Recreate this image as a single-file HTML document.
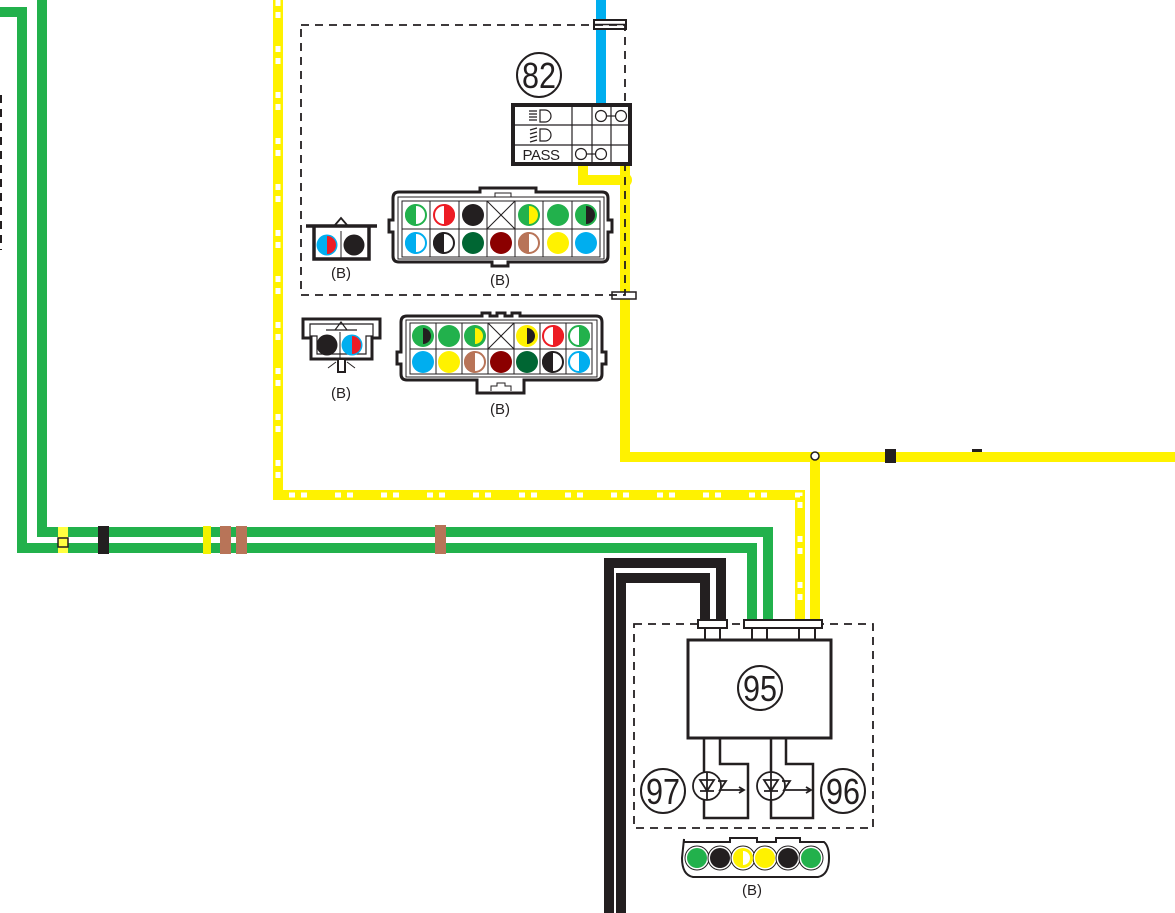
<!DOCTYPE html>
<html><head><meta charset="utf-8"><style>
html,body{margin:0;padding:0;background:#fff;}
svg{display:block;}
text{font-family:"Liberation Sans",sans-serif;fill:#231f20;}
</style></head><body>
<svg width="1175" height="913" viewBox="0 0 1175 913" xmlns="http://www.w3.org/2000/svg">
<!-- top left dashed line -->
<line x1="1" y1="95" x2="1" y2="250" stroke="#231f20" stroke-width="2" stroke-dasharray="8 6"/>

<!-- green wires -->
<polyline points="0,12 22,12 22,548 752,548 752,622" fill="none" stroke="#22b14c" stroke-width="10"/>
<polyline points="42,0 42,532 768,532 768,622" fill="none" stroke="#22b14c" stroke-width="10"/>
<!-- markers on green -->
<rect x="58" y="527" width="10" height="26" fill="#ffff40"/>
<rect x="58" y="538" width="10" height="9" fill="none" stroke="#231f20" stroke-width="1.5"/>
<rect x="98" y="526" width="11" height="28" fill="#231f20"/>
<rect x="203" y="526" width="8" height="28" fill="#f3f200"/>
<rect x="220" y="526" width="11" height="28" fill="#b87458"/>
<rect x="236" y="526" width="11" height="28" fill="#b87458"/>
<rect x="435" y="525" width="11" height="29" fill="#b87458"/>

<!-- yellow dashed wire -->
<polyline points="278,0 278,495 800,495 800,622" fill="none" stroke="#fff200" stroke-width="10"/>
<polyline points="278,0 278,495 800,495 800,622" fill="none" stroke="#fff" stroke-width="5" stroke-dasharray="6 6 6 28"/>

<!-- blue wire -->
<line x1="601" y1="0" x2="601" y2="105" stroke="#00aeef" stroke-width="10"/>
<rect x="594" y="20" width="32" height="9" fill="#fff" stroke="#231f20" stroke-width="2"/>
<line x1="594" y1="24.5" x2="626" y2="24.5" stroke="#231f20" stroke-width="1.5"/>

<!-- yellow solid wires -->
<polyline points="583,165 583,180 625,180" fill="none" stroke="#fff200" stroke-width="10"/>
<polyline points="625,165 625,457 1175,457" fill="none" stroke="#fff200" stroke-width="10"/>
<circle cx="625" cy="180" r="7" fill="#fff200"/>
<line x1="815" y1="457" x2="815" y2="622" stroke="#fff200" stroke-width="10"/>
<circle cx="815" cy="456" r="4" fill="#fff" stroke="#231f20" stroke-width="1.5"/>
<rect x="885" y="449" width="11" height="14" fill="#231f20"/>
<rect x="972" y="449" width="10" height="3" fill="#231f20"/>
<rect x="612" y="292" width="24" height="7" fill="#fff" stroke="#231f20" stroke-width="1.5"/>

<!-- dashed box top -->
<rect x="301" y="25" width="324" height="270" fill="none" stroke="#231f20" stroke-width="1.8" stroke-dasharray="8 6"/>

<!-- black wires -->
<polyline points="609,913 609,563 721,563 721,622" fill="none" stroke="#231f20" stroke-width="10"/>
<polyline points="621,913 621,578 705,578 705,622" fill="none" stroke="#231f20" stroke-width="10"/>

<!-- switch 82 -->
<circle cx="539" cy="75" r="22" fill="#fff" stroke="#231f20" stroke-width="2"/>
<text x="539" y="88" font-size="36" text-anchor="middle" textLength="34" lengthAdjust="spacingAndGlyphs">82</text>
<rect x="513" y="105" width="117" height="59" fill="#fff" stroke="#231f20" stroke-width="4"/>
<g stroke="#231f20" stroke-width="1.2" fill="none">
<line x1="572" y1="105" x2="572" y2="164"/><line x1="592" y1="105" x2="592" y2="164"/><line x1="611" y1="105" x2="611" y2="164"/>
<line x1="513" y1="125" x2="630" y2="125"/><line x1="513" y1="145" x2="630" y2="145"/>
<circle cx="601" cy="116" r="5.5"/><circle cx="621" cy="116" r="5.5"/><line x1="606" y1="116" x2="616" y2="116"/>
<circle cx="581" cy="154" r="5.5"/><circle cx="601" cy="154" r="5.5"/><line x1="586" y1="154" x2="596" y2="154"/>
<path d="M540,110 h5 a6,6 0 0 1 0,12 h-5 z"/>
<path d="M529,111h8M529,114h8M529,117h8M529,120h8"/>
<path d="M540,129 h5 a6,6 0 0 1 0,12 h-5 z"/>
<path d="M530,130l7,-2M530,134l7,-2M530,138l7,-2M530,142l7,-2"/>
</g>
<text x="541" y="160" font-size="15" text-anchor="middle" letter-spacing="-0.5">PASS</text>

<!-- small connector top -->
<path d="M335,225 L341,218 L347,225" fill="none" stroke="#231f20" stroke-width="1.8"/>
<path d="M306,226 H377 M314,226 V259 H369 V226" fill="none" stroke="#231f20" stroke-width="3.5"/>
<line x1="341" y1="231" x2="341" y2="259" stroke="#231f20" stroke-width="1"/>
<circle cx="327" cy="245" r="10.5" fill="#00aeef"/><path d="M327,236 A9,9 0 0 1 327,254 Z" fill="#ed1c24"/>
<circle cx="354" cy="245" r="10.5" fill="#231f20"/>
<text x="341" y="278" font-size="15" text-anchor="middle">(B)</text>

<!-- big connector top -->
<path d="M393,198 Q393,192 399,192 H480 V188 H536 V192 H602 Q608,192 608,198 V220 H612 V232 H608 V256 Q608,262 602,262 H508 V266 H492 V262 H399 Q393,262 393,256 V232 H389 V220 H393 Z" fill="#fff" stroke="#231f20" stroke-width="3"/>
<rect x="398" y="197" width="206" height="62" fill="none" stroke="#231f20" stroke-width="1"/>
<rect x="495" y="193" width="16" height="4" fill="none" stroke="#231f20" stroke-width="1"/>
<g stroke="#231f20" stroke-width="1" fill="none">
<rect x="402" y="201" width="198" height="56"/>
<line x1="402" y1="229" x2="600" y2="229"/>
<line x1="430" y1="201" x2="430" y2="257"/><line x1="459" y1="201" x2="459" y2="257"/><line x1="487" y1="201" x2="487" y2="257"/><line x1="515" y1="201" x2="515" y2="257"/><line x1="543" y1="201" x2="543" y2="257"/><line x1="572" y1="201" x2="572" y2="257"/>
<line x1="487" y1="201" x2="515" y2="229"/><line x1="515" y1="201" x2="487" y2="229"/>
</g>
<circle cx="416" cy="215" r="10" fill="#fff" stroke="#22b14c" stroke-width="2"/><path d="M416,204 A11,11 0 0 0 416,226 Z" fill="#22b14c"/>
<circle cx="444" cy="215" r="10" fill="#fff" stroke="#ed1c24" stroke-width="2"/><path d="M444,204 A11,11 0 0 1 444,226 Z" fill="#ed1c24"/>
<circle cx="473" cy="215" r="11" fill="#231f20"/>
<circle cx="529" cy="215" r="11" fill="#22b14c"/><path d="M529,206 A9,9 0 0 1 529,224 Z" fill="#fff200"/>
<circle cx="558" cy="215" r="11" fill="#22b14c"/>
<circle cx="586" cy="215" r="11" fill="#22b14c"/><path d="M586,206 A9,9 0 0 1 586,224 Z" fill="#231f20"/>
<circle cx="416" cy="243" r="10" fill="#fff" stroke="#00aeef" stroke-width="2"/><path d="M416,232 A11,11 0 0 0 416,254 Z" fill="#00aeef"/>
<circle cx="444" cy="243" r="10" fill="#fff" stroke="#231f20" stroke-width="2"/><path d="M444,232 A11,11 0 0 0 444,254 Z" fill="#231f20"/>
<circle cx="473" cy="243" r="11" fill="#006633"/>
<circle cx="501" cy="243" r="11" fill="#8b0000"/>
<circle cx="529" cy="243" r="10" fill="#fff" stroke="#b87458" stroke-width="2"/><path d="M529,232 A11,11 0 0 0 529,254 Z" fill="#b87458"/>
<circle cx="558" cy="243" r="11" fill="#fff200"/>
<circle cx="586" cy="243" r="11" fill="#00aeef"/>
<text x="500" y="285" font-size="15" text-anchor="middle">(B)</text>

<!-- small connector bottom -->
<path d="M303,319 H380 V338 H372 V359 H311 V338 H303 Z" fill="#fff" stroke="#231f20" stroke-width="3"/>
<path d="M310,324 H373 V336 H366 V354 H317 V336 H310 Z" fill="none" stroke="#231f20" stroke-width="1.2"/>
<path d="M326,330 H357 M335,330 L341,322 L347,330" fill="none" stroke="#231f20" stroke-width="1.2"/>
<line x1="340" y1="332" x2="340" y2="359" stroke="#231f20" stroke-width="1"/>
<circle cx="327" cy="345" r="10.5" fill="#231f20"/>
<circle cx="352" cy="345" r="10.5" fill="#00aeef"/><path d="M352,336 A9,9 0 0 1 352,354 Z" fill="#ed1c24"/>
<rect x="338" y="359" width="7" height="13" fill="#fff" stroke="#231f20" stroke-width="2"/>
<path d="M328,368 L336,362 M355,368 L347,362" stroke="#231f20" stroke-width="1"/>
<text x="341" y="398" font-size="15" text-anchor="middle">(B)</text>

<!-- big connector bottom -->
<path d="M482,316 V313 H490 V316 H497 V313 H505 V316 H512 V313 H520 V316 H596 Q602,316 602,322 V352 H606 V364 H602 V374 Q602,380 596,380 H524 V393 H477 V380 H407 Q401,380 401,374 V364 H397 V352 H401 V322 Q401,316 407,316 Z" fill="#fff" stroke="#231f20" stroke-width="3"/>
<rect x="406" y="320" width="191" height="57" fill="none" stroke="#231f20" stroke-width="1"/>
<path d="M491,391 V386 H497 V383 H505 V386 H511 V391" fill="none" stroke="#231f20" stroke-width="1"/>
<g stroke="#231f20" stroke-width="1" fill="none">
<rect x="410" y="323" width="182" height="51"/>
<line x1="410" y1="349" x2="592" y2="349"/>
<line x1="436" y1="323" x2="436" y2="374"/><line x1="462" y1="323" x2="462" y2="374"/><line x1="488" y1="323" x2="488" y2="374"/><line x1="514" y1="323" x2="514" y2="374"/><line x1="540" y1="323" x2="540" y2="374"/><line x1="566" y1="323" x2="566" y2="374"/>
<line x1="488" y1="323" x2="514" y2="349"/><line x1="514" y1="323" x2="488" y2="349"/>
</g>
<circle cx="423" cy="336" r="11" fill="#22b14c"/><path d="M423,328 A8,8 0 0 1 423,344 Z" fill="#231f20"/>
<circle cx="449" cy="336" r="11" fill="#22b14c"/>
<circle cx="475" cy="336" r="11" fill="#22b14c"/><path d="M475,328 A8,8 0 0 1 475,344 Z" fill="#fff200"/>
<circle cx="527" cy="336" r="11" fill="#fff200"/><path d="M527,328 A8,8 0 0 1 527,344 Z" fill="#231f20"/>
<circle cx="553" cy="336" r="10" fill="#fff" stroke="#ed1c24" stroke-width="2"/><path d="M553,325 A11,11 0 0 1 553,347 Z" fill="#ed1c24"/>
<circle cx="579" cy="336" r="10" fill="#fff" stroke="#22b14c" stroke-width="2"/><path d="M579,325 A11,11 0 0 1 579,347 Z" fill="#22b14c"/>
<circle cx="423" cy="362" r="11" fill="#00aeef"/>
<circle cx="449" cy="362" r="11" fill="#fff200"/>
<circle cx="475" cy="362" r="10" fill="#fff" stroke="#b87458" stroke-width="2"/><path d="M475,351 A11,11 0 0 0 475,373 Z" fill="#b87458"/>
<circle cx="501" cy="362" r="11" fill="#8b0000"/>
<circle cx="527" cy="362" r="11" fill="#006633"/>
<circle cx="553" cy="362" r="10" fill="#fff" stroke="#231f20" stroke-width="2"/><path d="M553,351 A11,11 0 0 0 553,373 Z" fill="#231f20"/>
<circle cx="579" cy="362" r="10" fill="#fff" stroke="#00aeef" stroke-width="2"/><path d="M579,351 A11,11 0 0 1 579,373 Z" fill="#00aeef"/>
<text x="500" y="414" font-size="15" text-anchor="middle">(B)</text>

<!-- dashed box 95 -->
<rect x="634" y="624" width="239" height="204" fill="none" stroke="#231f20" stroke-width="1.8" stroke-dasharray="8 6"/>
<rect x="698" y="620" width="29" height="8" fill="#fff" stroke="#231f20" stroke-width="2"/>
<rect x="744" y="620" width="78" height="8" fill="#fff" stroke="#231f20" stroke-width="2"/>
<g stroke="#231f20" stroke-width="2">
<line x1="705" y1="628" x2="705" y2="640"/><line x1="720" y1="628" x2="720" y2="640"/>
<line x1="752" y1="628" x2="752" y2="640"/><line x1="767" y1="628" x2="767" y2="640"/>
<line x1="799" y1="628" x2="799" y2="640"/><line x1="815" y1="628" x2="815" y2="640"/>
</g>
<rect x="688" y="640" width="143" height="98" fill="#fff" stroke="#231f20" stroke-width="3"/>
<circle cx="760" cy="688" r="22" fill="#fff" stroke="#231f20" stroke-width="2"/>
<text x="760" y="701" font-size="36" text-anchor="middle" textLength="34" lengthAdjust="spacingAndGlyphs">95</text>
<g stroke="#231f20" stroke-width="2.5" fill="none">
<path d="M704,738 V818 H748 V764 H720 V738"/>
<path d="M771,738 V818 H813 V764 H786 V738"/>
</g>
<g stroke="#231f20" stroke-width="1.8" fill="none">
<circle cx="707" cy="786" r="14" fill="#fff"/>
<path d="M700,780 H714 L707,791 Z M700,791 H714 M707,772 V800"/>
<path d="M718,781 H726 L720,790 H743 M739,787 L744,790 L739,793"/>
<circle cx="771" cy="786" r="14" fill="#fff"/>
<path d="M764,780 H778 L771,791 Z M764,791 H778 M771,772 V800"/>
<path d="M782,781 H790 L784,790 H810 M806,787 L811,790 L806,793"/>
</g>
<circle cx="663" cy="791" r="22" fill="#fff" stroke="#231f20" stroke-width="2"/>
<text x="663" y="804" font-size="36" text-anchor="middle" textLength="34" lengthAdjust="spacingAndGlyphs">97</text>
<circle cx="843" cy="791" r="22" fill="#fff" stroke="#231f20" stroke-width="2"/>
<text x="843" y="804" font-size="36" text-anchor="middle" textLength="34" lengthAdjust="spacingAndGlyphs">96</text>

<!-- bottom 6-pin connector -->
<path d="M684,839 V842 H730 V838 H757 V842 H776 V838 H800 V842 H824 Q829,846 829,858 Q829,875 818,877 H693 Q682,875 682,858 Z" fill="#fff" stroke="#231f20" stroke-width="2"/>
<g stroke="#231f20" stroke-width="1" fill="#fff">
<circle cx="697" cy="858" r="12"/><circle cx="720" cy="858" r="12"/><circle cx="743" cy="858" r="12"/><circle cx="765" cy="858" r="12"/><circle cx="788" cy="858" r="12"/><circle cx="811" cy="858" r="12"/>
</g>
<circle cx="697" cy="858" r="10" fill="#22b14c"/>
<circle cx="720" cy="858" r="10" fill="#231f20"/>
<circle cx="743" cy="858" r="10" fill="#fff200"/><path d="M743,851 A7,7 0 0 1 743,865 Z" fill="#fff"/>
<circle cx="765" cy="858" r="10" fill="#fff200"/>
<circle cx="788" cy="858" r="10" fill="#231f20"/>
<circle cx="811" cy="858" r="10" fill="#22b14c"/>
<text x="752" y="895" font-size="15" text-anchor="middle">(B)</text>
</svg>
</body></html>
